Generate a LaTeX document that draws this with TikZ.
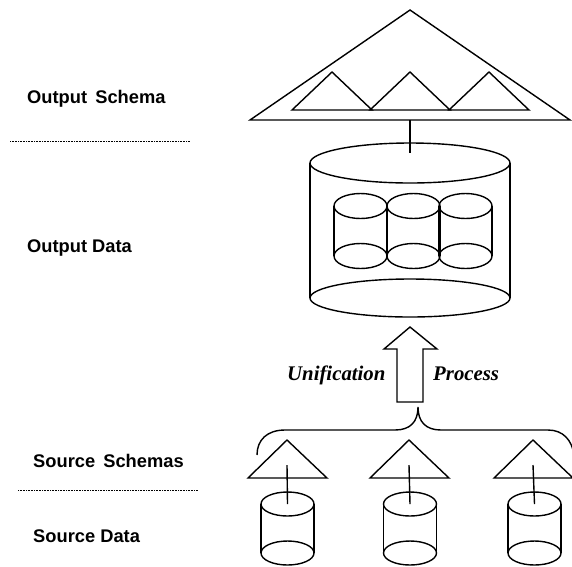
\documentclass[tikz,border=0pt]{standalone}
\usepackage{fontspec}
\setmainfont{Liberation Sans}
\newfontfamily\timesbi[BoldItalicFont={* Bold Italic}]{Liberation Serif}
\begin{document}
\begin{tikzpicture}[x=1pt,y=-1pt,
  shape line/.style={line width=1.4pt, line join=miter},
  sep line/.style={line width=0.7pt, dash pattern=on 0.7pt off 0.9pt},
  label text/.style={anchor=base west, inner sep=0pt, font=\fontsize{18.3}{20}\selectfont\bfseries},
  proc text/.style={anchor=base west, inner sep=0pt, font=\fontsize{20.8}{22}\selectfont\timesbi\bfseries\itshape}]
\useasboundingbox (0,0) rectangle (572,566);

% labels
\node[label text] (os) at (27,103) {Output\ \,Schema};
\node[label text] (od) at (27,252) {Output Data};
\node[label text] (ss) at (33,467) {Source\ \,Schemas};
\node[label text] (sd) at (33,542) {Source Data};
\draw[sep line] (10,141) -- (190,141);
\draw[sep line] (18,490) -- (198,490);

% output schema
\draw[shape line] (410,10) -- (570,120) -- (250,120) -- cycle;
\foreach \c in {332,410,489}{
  \draw[shape line] (\c-40,110) -- (\c,72) -- (\c+40,110) -- cycle;
}
\coordinate (osb) at (410,120);
\coordinate (odt) at (410,153);
\draw[shape line] (osb) -- (odt);

% output data cylinder
\draw[shape line] (410,163) ellipse [x radius=100, y radius=20];
\draw[shape line] (410,298) ellipse [x radius=100, y radius=19];
\draw[shape line] (310,163) -- (310,298);
\draw[shape line] (510,163) -- (510,298);
\foreach \c in {360.5,413.5,465.5}{
  \draw[shape line] (\c,206) ellipse [x radius=26.5, y radius=12.5];
  \draw[shape line] (\c,256) ellipse [x radius=26.5, y radius=12.5];
  \draw[shape line] (\c-26.5,206) -- (\c-26.5,256);
  \draw[shape line] (\c+26.5,206) -- (\c+26.5,256);
}

% unification arrow
\draw[shape line] (397,402) -- (397,349) -- (384,349) -- (410,327) -- (437,349) -- (423,349) -- (423,402) -- cycle;
\node[proc text] (un) at (287,380) {Unification};
\node[proc text] (pr) at (433,380) {Process};

% brace
\draw[shape line] (257,455) .. controls (257,440) and (267,430) .. (285,430)
  -- (395,430) .. controls (410,430) and (418,422) .. (418,407)
  .. controls (418,422) and (426,430) .. (441,430)
  -- (548,430) .. controls (563,430) and (572,440) .. (574,455);

% sources
\foreach \c/\d [count=\i] in {287/287.5,409/410,533/534.5}{
  \draw[shape line] (\c-39,478) -- (\c,440) -- (\c+40,478) -- cycle;
  \coordinate (st\i) at (\c,465);
  \coordinate (sc\i) at (\d,504);
  \draw[shape line] (st\i) -- (sc\i);
  \draw[shape line] (\d,504) ellipse [x radius=26.5, y radius=12];
  \draw[shape line] (\d,553) ellipse [x radius=26.5, y radius=12];
  \draw[shape line] (\d-26.5,504) -- (\d-26.5,553);
  \draw[shape line] (\d+26.5,504) -- (\d+26.5,553);
}
\end{tikzpicture}
\end{document}
